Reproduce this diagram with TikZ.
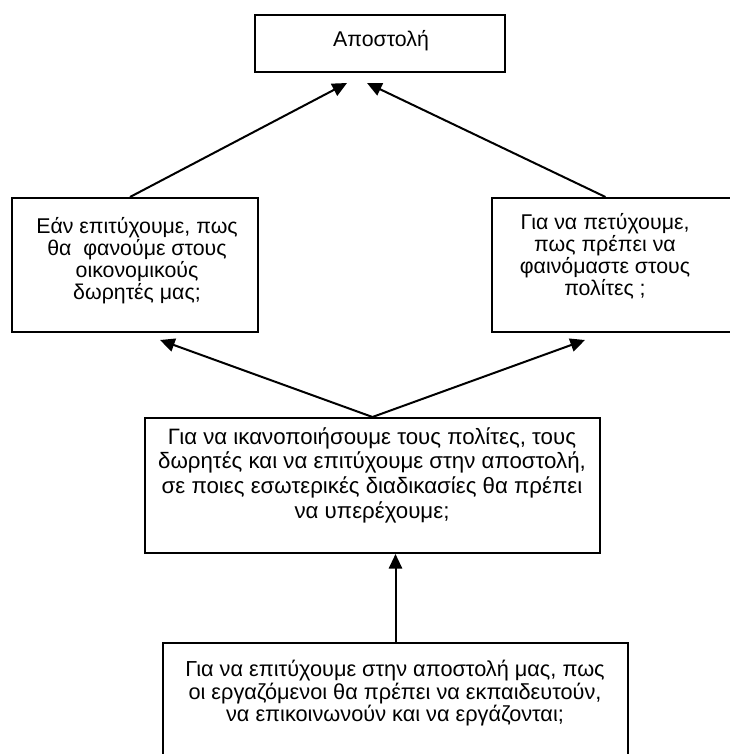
\documentclass[tikz,border=0pt]{standalone}
\usepackage{fontspec}
\setmainfont{Liberation Sans}
\usetikzlibrary{arrows.meta,calc}
\begin{document}
\begin{tikzpicture}[x=0.75pt,y=-0.75pt,
  box/.style={draw=black, line width=1.5pt, rectangle, inner sep=0pt},
  lbl/.style={align=center, font=\fontsize{16}{16.6}\selectfont, inner sep=0pt, anchor=north},
  widelbl/.style={lbl, font=\fontsize{16.7}{18.6}\selectfont},
  link/.style={line width=1.5pt, -{Triangle[length=11pt,width=10pt]}}]
\useasboundingbox (0,0) rectangle (730,754);

% boxes
\node[box, minimum width=187.5pt, minimum height=42.75pt] (mission) at (380,43.5) {};
\node[box, minimum width=184.5pt, minimum height=100.5pt] (donors) at (135,265) {};
\node[box, minimum width=182.25pt, minimum height=100.5pt] (citizens) at (613.5,265) {};
\node[box, minimum width=341.25pt, minimum height=101.25pt] (process) at (372.5,485.5) {};
\node[box, minimum width=348.75pt, minimum height=95.25pt] (learning) at (395.5,706.5) {};

% texts
\node[lbl] (tmission) at (381,30) {Αποστολή};
\node[lbl] (tdonors) at (137,217) {Εάν επιτύχουμε, πως\\θα~ φανούμε στους\\οικονομικούς\\δωρητές μας;};
\node[lbl] (tcitizens) at (605,213) {Για να πετύχουμε,\\πως πρέπει να\\φαινόμαστε στους\\πολίτες ;};
\node[widelbl] (tprocess) at (372,427) {Για να ικανοποιήσουμε τους πολίτες, τους\\δωρητές και να επιτύχουμε στην αποστολή,\\σε ποιες εσωτερικές διαδικασίες θα πρέπει\\να υπερέχουμε;};
\node[lbl, font=\fontsize{16.3}{16.9}\selectfont] (tlearning) at (395,660) {Για να επιτύχουμε στην αποστολή μας, πως\\οι εργαζόμενοι θα πρέπει να εκπαιδευτούν,\\να επικοινωνούν και να εργάζονται;};

% arrow tips
\coordinate (tipL) at (347,83);
\coordinate (tipR) at (367,83);
\coordinate (tipML) at (160,340);
\coordinate (tipMR) at (585,340);

% connectors
\draw[link] ($(donors.north)+(-5,0)$) -- (tipL);
\draw[link] ($(citizens.north)+(-8,0)$) -- (tipR);
\draw[link] (process.north) -- (tipML);
\draw[link] (process.north) -- (tipMR);
\draw[link] (learning.north) -- (learning.north |- process.south);
\end{tikzpicture}
\end{document}
